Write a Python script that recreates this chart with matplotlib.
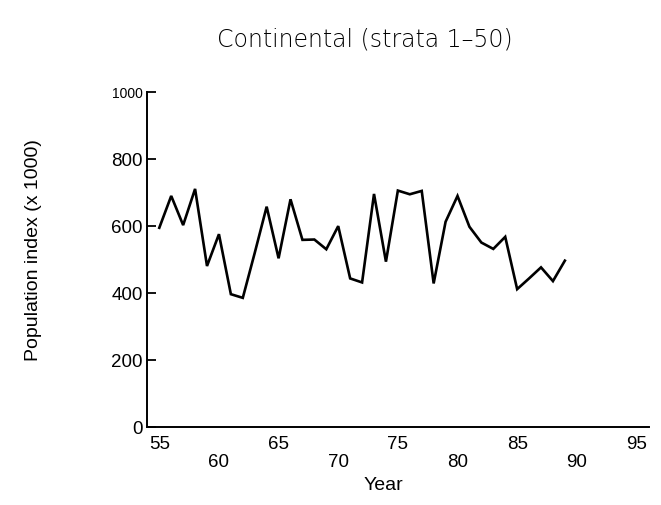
import matplotlib
matplotlib.use("Agg")
import matplotlib.pyplot as plt

# population index by year
years = [55, 56, 57, 58, 59, 60, 61, 62, 63, 64, 65, 66, 67, 68, 69, 70, 71, 72,
         73, 74, 75, 76, 77, 78, 79, 80, 81, 82, 83, 84, 85, 86, 87, 88, 89]
index = [595, 690, 603, 711, 481, 576, 397, 386, 520, 658, 504, 680, 559, 560, 531, 600, 444, 432,
         696, 494, 706, 695, 705, 429, 613, 690, 598, 551, 532, 568, 412, 444, 477, 436, 497]

upper_ticks = [55, 65, 75, 85, 95]
lower_ticks = [60, 70, 80, 90]
y_ticks = [0, 200, 400, 600, 800, 1000]

tick_font = ["DejaVu Sans Condensed", "Liberation Sans"]
label_font = ["Liberation Sans", "DejaVu Sans"]

fig = plt.figure(figsize=(6.61, 5.05), dpi=100)
ax = fig.add_axes([0.2224, 0.1539, 0.7594, 0.6639])

ax.plot(years, index, color="black", lw=1.9, solid_joinstyle="miter")

ax.set_xlim(53.97, 96.05)
ax.set_ylim(0, 1000)

for s in ["top", "right"]:
    ax.spines[s].set_visible(False)
for s in ["left", "bottom"]:
    ax.spines[s].set_linewidth(1.4)

ax.set_yticks(y_ticks)
ax.set_yticklabels([str(v) for v in y_ticks], family=tick_font, fontsize=13.5)
ax.tick_params(axis="y", direction="in", length=6.5, width=1.3, pad=3)
ax.get_yticklabels()[-1].set_fontsize(10)

ax.set_xticks(upper_ticks)
ax.set_xticklabels([str(v) for v in upper_ticks], family=tick_font, fontsize=13.5)
ax.set_xticks(lower_ticks, minor=True)
ax.set_xticklabels([str(v) for v in lower_ticks], minor=True, family=tick_font, fontsize=13.5)
ax.tick_params(axis="x", which="major", length=0, pad=6)
ax.tick_params(axis="x", which="minor", length=0, pad=19)

ax.set_xlabel("Year", fontsize=14, family=label_font)
ax.xaxis.set_label_coords(0.47, -0.148)
ax.set_ylabel("Population index (x 1000)", fontsize=14, family=label_font)
ax.yaxis.set_label_coords(-0.21, 0.529)

fig.text(365 / 661, 1 - 40 / 505, "Continental (strata 1–50)", ha="center", va="center",
         fontsize=17, fontweight="light", color="black")

fig.savefig("out.png", dpi=100)
